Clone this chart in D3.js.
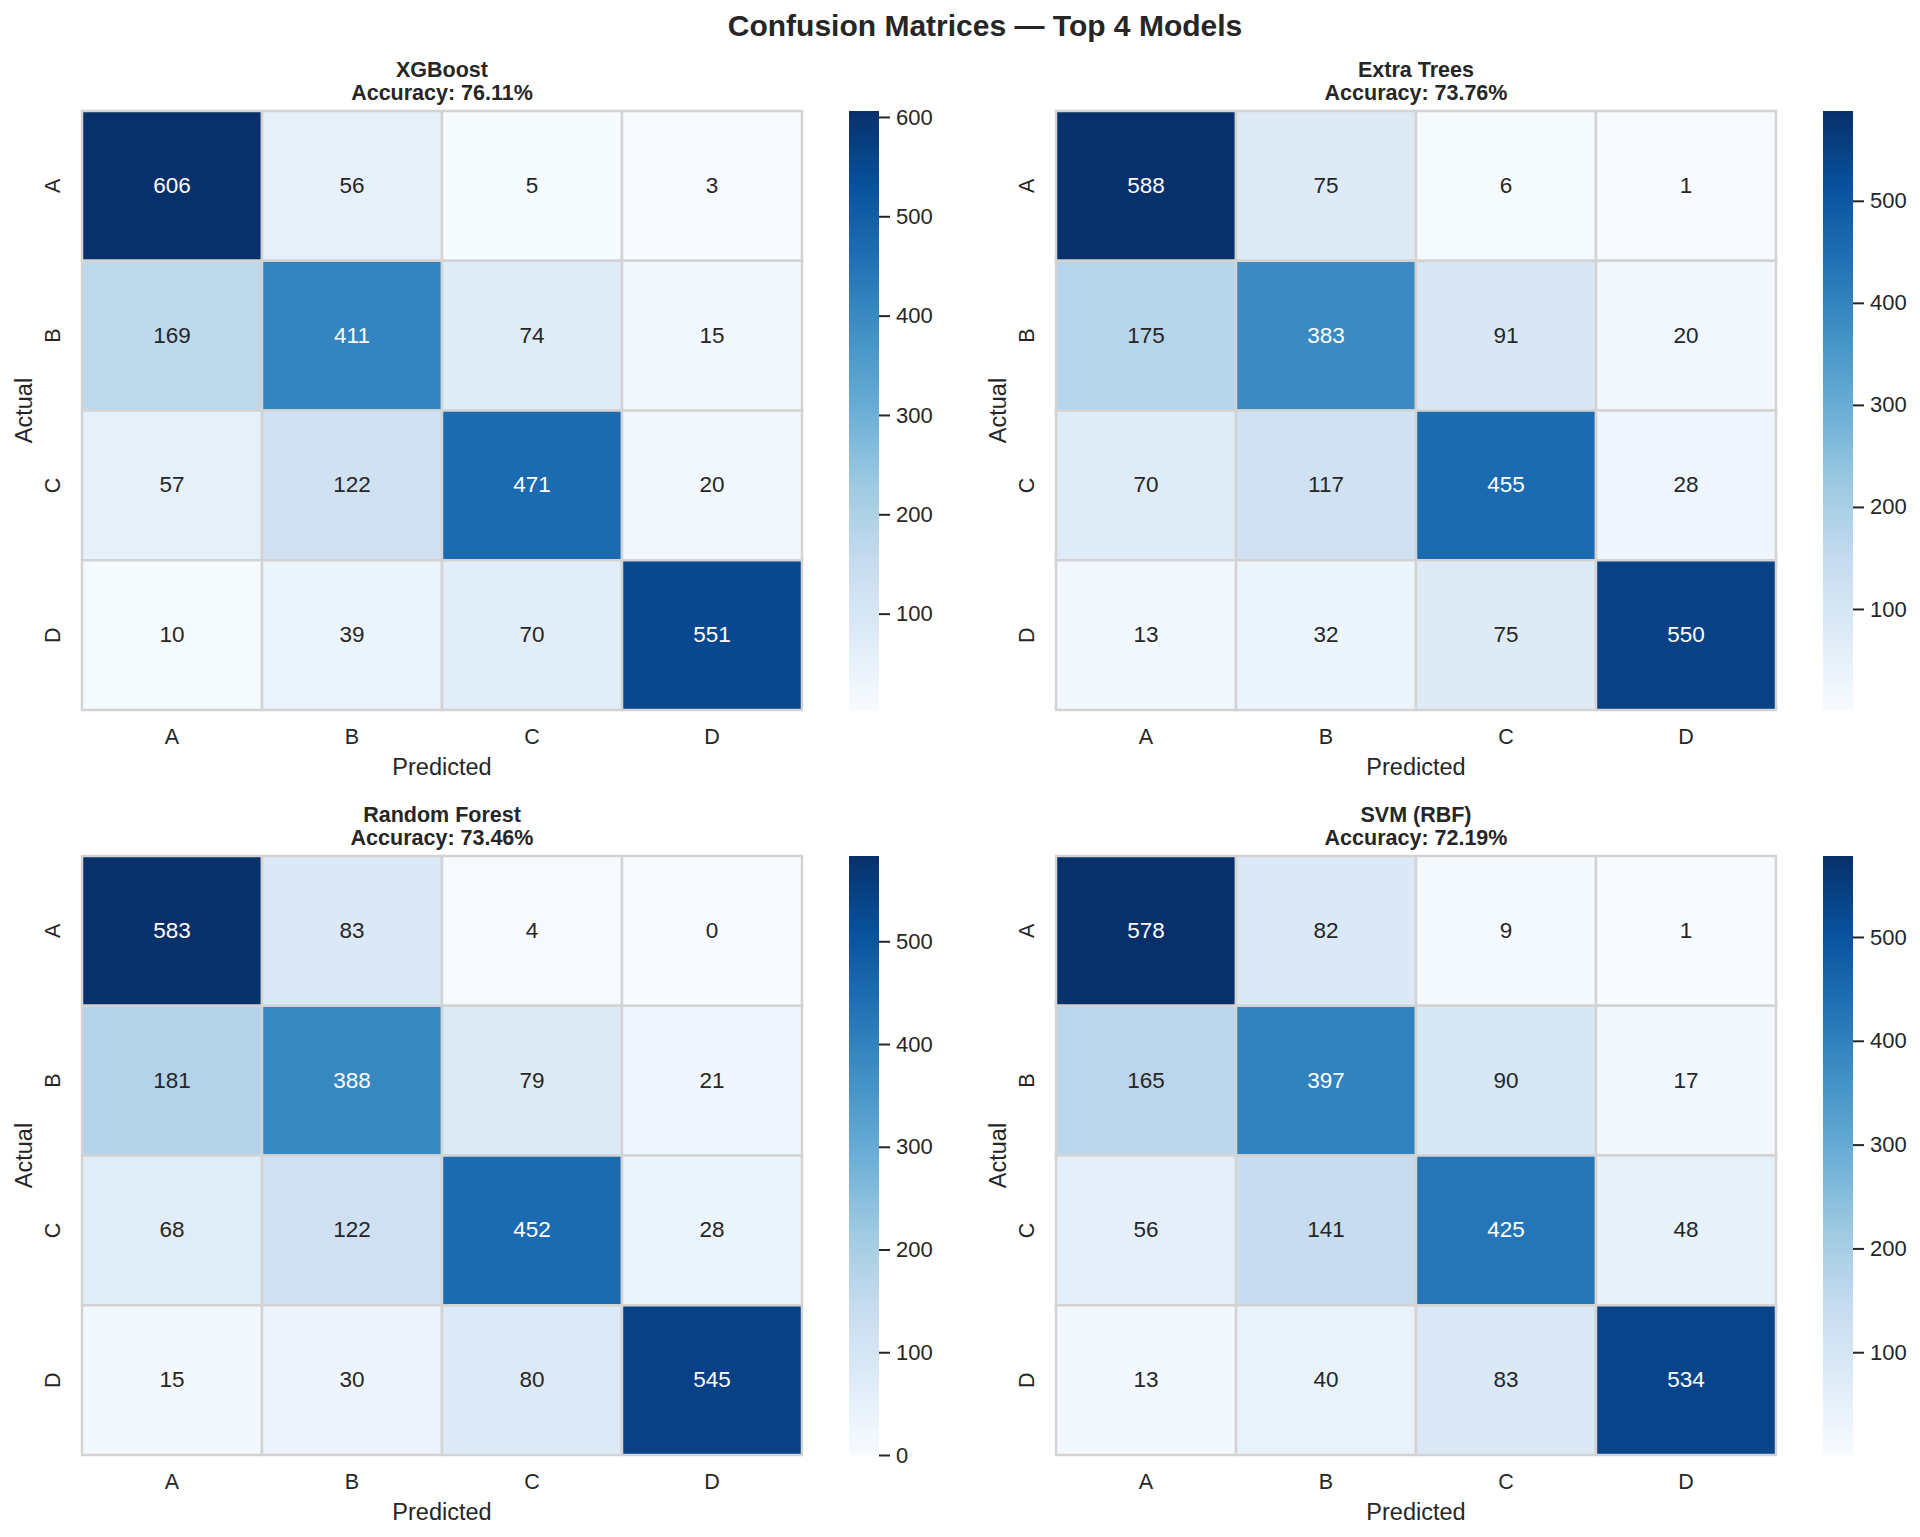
<!DOCTYPE html>
<meta charset="utf-8">
<html>

<head>
    <script src="https://d3js.org/d3.v7.js"></script>
    <style>
        body { margin: 0; background: #fff; }
        text { font-family: "Liberation Sans", Arial, sans-serif; fill: #262626; }
    </style>
</head>

<body>
    <script>
    // Data
    var models = ["XGBoost", "Extra Trees", "Random Forest", "SVM (RBF)"];
    var accuracies = [76.11, 73.76, 73.46, 72.19];
    var classes = ["A", "B", "C", "D"];

    var cmXGBoost = [[606, 56, 5, 3], [169, 411, 74, 15], [57, 122, 471, 20], [10, 39, 70, 551]];
    var cmExtraTrees = [[588, 75, 6, 1], [175, 383, 91, 20], [70, 117, 455, 28], [13, 32, 75, 550]];
    var cmRandomForest = [[583, 83, 4, 0], [181, 388, 79, 21], [68, 122, 452, 28], [15, 30, 80, 545]];
    var cmSVM = [[578, 82, 9, 1], [165, 397, 90, 17], [56, 141, 425, 48], [13, 40, 83, 534]];
    var matrices = [cmXGBoost, cmExtraTrees, cmRandomForest, cmSVM];

    var width = 1920, height = 1537;
    var hmWidth = 720, hmHeight = 599;
    var colLeft = [82, 1056], rowTop = [111, 856];
    var cbOffset = 767, cbWidth = 30;

    // matplotlib "Blues" = linear segments between the 9 brewer colours
    var blues = d3.scaleLinear()
        .domain(d3.range(9).map(function(i) { return i / 8; }))
        .range(d3.schemeBlues[9])
        .interpolate(d3.interpolateRgb)
        .clamp(true);

    function luminance(c) {
        var rgb = d3.rgb(c);
        var ch = [rgb.r, rgb.g, rgb.b].map(function(v) {
            v = v / 255;
            return v <= 0.03928 ? v / 12.92 : Math.pow((v + 0.055) / 1.055, 2.4);
        });
        return 0.2126 * ch[0] + 0.7152 * ch[1] + 0.0722 * ch[2];
    }

    var svg = d3.select("body").append("svg")
        .attr("width", width)
        .attr("height", height);

    var defs = svg.append("defs");

    svg.append("text")
        .attr("x", 985)
        .attr("y", 36)
        .attr("text-anchor", "middle")
        .style("font-size", "30px")
        .style("font-weight", "bold")
        .text("Confusion Matrices \u2014 Top 4 Models");

    models.forEach(function(name, m) {
        var data = matrices[m];
        var flat = d3.merge(data);
        var vmin = d3.min(flat), vmax = d3.max(flat);
        var left = colLeft[m % 2], top = rowTop[Math.floor(m / 2)];

        var g = svg.append("g").attr("transform", "translate(" + left + "," + top + ")");

        var x = d3.scaleBand().domain(classes).range([0, hmWidth]);
        var y = d3.scaleBand().domain(classes).range([0, hmHeight]);
        var norm = d3.scaleLinear().domain([vmin, vmax]).range([0, 1]);

        var cells = [];
        data.forEach(function(row, i) {
            row.forEach(function(v, j) {
                cells.push({ actual: classes[i], pred: classes[j], value: v });
            });
        });

        g.selectAll("rect.cell")
            .data(cells)
            .join("rect")
            .attr("class", "cell")
            .attr("x", function(d) { return x(d.pred); })
            .attr("y", function(d) { return y(d.actual); })
            .attr("width", x.bandwidth())
            .attr("height", y.bandwidth())
            .attr("fill", function(d) { return blues(norm(d.value)); })
            .attr("stroke", "#d3d3d3")
            .attr("stroke-width", 2.5);

        g.selectAll("text.annot")
            .data(cells)
            .join("text")
            .attr("class", "annot")
            .attr("x", function(d) { return x(d.pred) + x.bandwidth() / 2; })
            .attr("y", function(d) { return y(d.actual) + y.bandwidth() / 2 - 1; })
            .attr("text-anchor", "middle")
            .attr("dy", "0.36em")
            .style("font-size", "22.5px")
            .style("fill", function(d) {
                return luminance(blues(norm(d.value))) > 0.408 ? "#262626" : "#ffffff";
            })
            .text(function(d) { return d.value; });

        // tick labels
        g.selectAll("text.xtick")
            .data(classes)
            .join("text")
            .attr("class", "xtick")
            .attr("x", function(d) { return x(d) + x.bandwidth() / 2; })
            .attr("y", hmHeight + 34)
            .attr("text-anchor", "middle")
            .style("font-size", "21.5px")
            .text(function(d) { return d; });

        g.selectAll("text.ytick")
            .data(classes)
            .join("text")
            .attr("class", "ytick")
            .attr("transform", function(d) {
                return "translate(-22," + (y(d) + y.bandwidth() / 2) + ") rotate(-90)";
            })
            .attr("text-anchor", "middle")
            .style("font-size", "21.5px")
            .text(function(d) { return d; });

        g.append("text")
            .attr("x", hmWidth / 2)
            .attr("y", hmHeight + 65)
            .attr("text-anchor", "middle")
            .style("font-size", "23.5px")
            .text("Predicted");

        g.append("text")
            .attr("transform", "translate(-50," + (hmHeight / 2) + ") rotate(-90)")
            .attr("text-anchor", "middle")
            .style("font-size", "23.5px")
            .text("Actual");

        // subplot title
        g.append("text")
            .attr("x", hmWidth / 2)
            .attr("y", -34)
            .attr("text-anchor", "middle")
            .style("font-size", "21.5px")
            .style("font-weight", "bold")
            .text(name);

        g.append("text")
            .attr("x", hmWidth / 2)
            .attr("y", -11.5)
            .attr("text-anchor", "middle")
            .style("font-size", "21.5px")
            .style("font-weight", "bold")
            .text("Accuracy: " + accuracies[m].toFixed(2) + "%");

        // colorbar
        var grad = defs.append("linearGradient")
            .attr("id", "cb" + m)
            .attr("x1", 0).attr("y1", 1)
            .attr("x2", 0).attr("y2", 0);
        grad.selectAll("stop")
            .data(d3.range(9))
            .join("stop")
            .attr("offset", function(d) { return d / 8; })
            .attr("stop-color", function(d) { return blues(d / 8); });

        var cb = g.append("g").attr("transform", "translate(" + cbOffset + ",0)");
        cb.append("rect")
            .attr("width", cbWidth)
            .attr("height", hmHeight)
            .attr("fill", "url(#cb" + m + ")");

        var cbScale = d3.scaleLinear().domain([vmin, vmax]).range([hmHeight, 0]);
        var ticks = d3.range(0, vmax + 1, 100).filter(function(t) { return t >= vmin; });
        var axis = d3.axisRight(cbScale)
            .tickValues(ticks)
            .tickSize(11)
            .tickPadding(6)
            .tickFormat(d3.format("d"));

        var ax = cb.append("g")
            .attr("transform", "translate(" + cbWidth + ",0)")
            .call(axis);
        ax.select(".domain").remove();
        ax.selectAll(".tick line").attr("stroke", "#262626").attr("stroke-width", 2);
        ax.selectAll(".tick text")
            .attr("fill", "#262626")
            .style("font-size", "22px")
            .style("font-family", "'Liberation Sans', Arial, sans-serif");
    });
    </script>
</body>

</html>
